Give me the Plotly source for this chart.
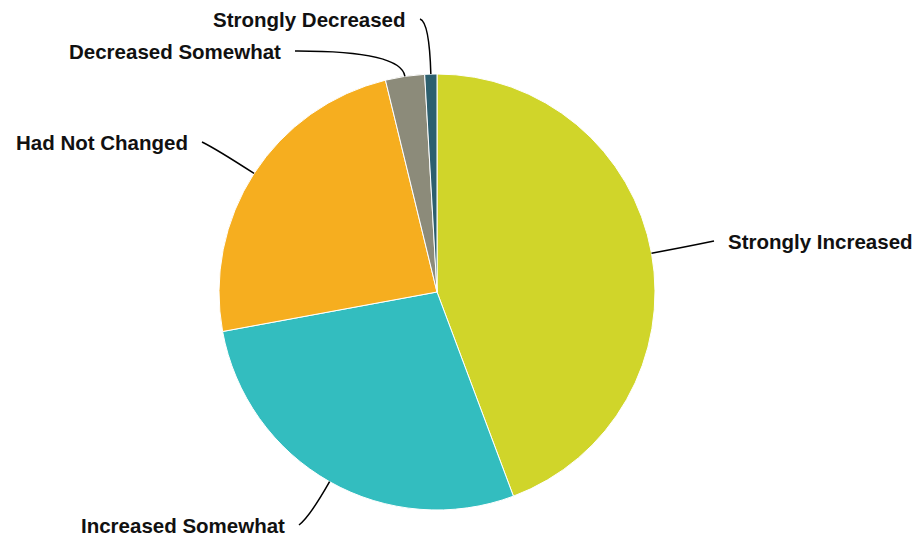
import math
import plotly.graph_objects as go

categories = ["Strongly Increased", "Increased Somewhat", "Had Not Changed",
              "Decreased Somewhat", "Strongly Decreased"]
values = [44.3, 27.8, 24.1, 2.9, 0.9]
colors = ["#D0D52A", "#33BDBF", "#F6AE1F", "#8C8B7A", "#2C5F6E"]

OFF = 8                      # page body margin
W, H = 913, 533              # figure size
CX, CY, R = 437, 292, 218    # pie centre / radius in screen pixels

# label placement (screen pixel anchor, side, radial bend distance)
label_pos = [(726, 241, "left", 30), (287, 525, "right", 40), (190, 142, "right", 45),
             (283, 51, "right", 26), (408, 19, "right", 52)]

def px(x, y):
    return (x - OFF) / W, 1 - (y - OFF) / H

d0 = px(CX - R, CY + R)
d1 = px(CX + R, CY - R)
fig = go.Figure(go.Pie(
    labels=categories, values=values, sort=False, direction="clockwise",
    rotation=0, marker=dict(colors=colors, line=dict(color="white", width=1)),
    textinfo="none", hoverinfo="label+percent", showlegend=False,
    domain=dict(x=[d0[0], d1[0]], y=[d0[1], d1[1]]),
))

total = sum(values)
cum = 0
shapes, annotations = [], []
for cat, v, (lx, ly, side, d) in zip(categories, values, label_pos):
    mid = (cum + v / 2) / total * 2 * math.pi
    cum += v
    dx, dy = math.sin(mid), -math.cos(mid)
    ex, ey = CX + R * dx, CY + R * dy
    cx_, cy_ = CX + (R + d) * dx, CY + (R + d) * dy
    endx = lx - 12 if side == "left" else lx + 12
    p0 = px(ex, ey); p1 = px(cx_, cy_); p2 = px(endx, ly)
    shapes.append(dict(type="path", xref="paper", yref="paper",
                       path=f"M {p0[0]},{p0[1]} Q {p1[0]},{p1[1]} {p2[0]},{p2[1]}",
                       line=dict(color="black", width=1.5)))
    ax, ay = px(lx, ly)
    annotations.append(dict(text=f"<b>{cat}</b>", x=ax, y=ay, xref="paper", yref="paper",
                            xanchor=side, yanchor="middle", showarrow=False,
                            font=dict(family="Liberation Sans, Arial", size=20.5, color="#111111")))

fig.update_layout(width=W, height=H, margin=dict(l=0, r=0, t=0, b=0),
                  paper_bgcolor="white", plot_bgcolor="white",
                  shapes=shapes, annotations=annotations)
fig.write_html("out.html")
